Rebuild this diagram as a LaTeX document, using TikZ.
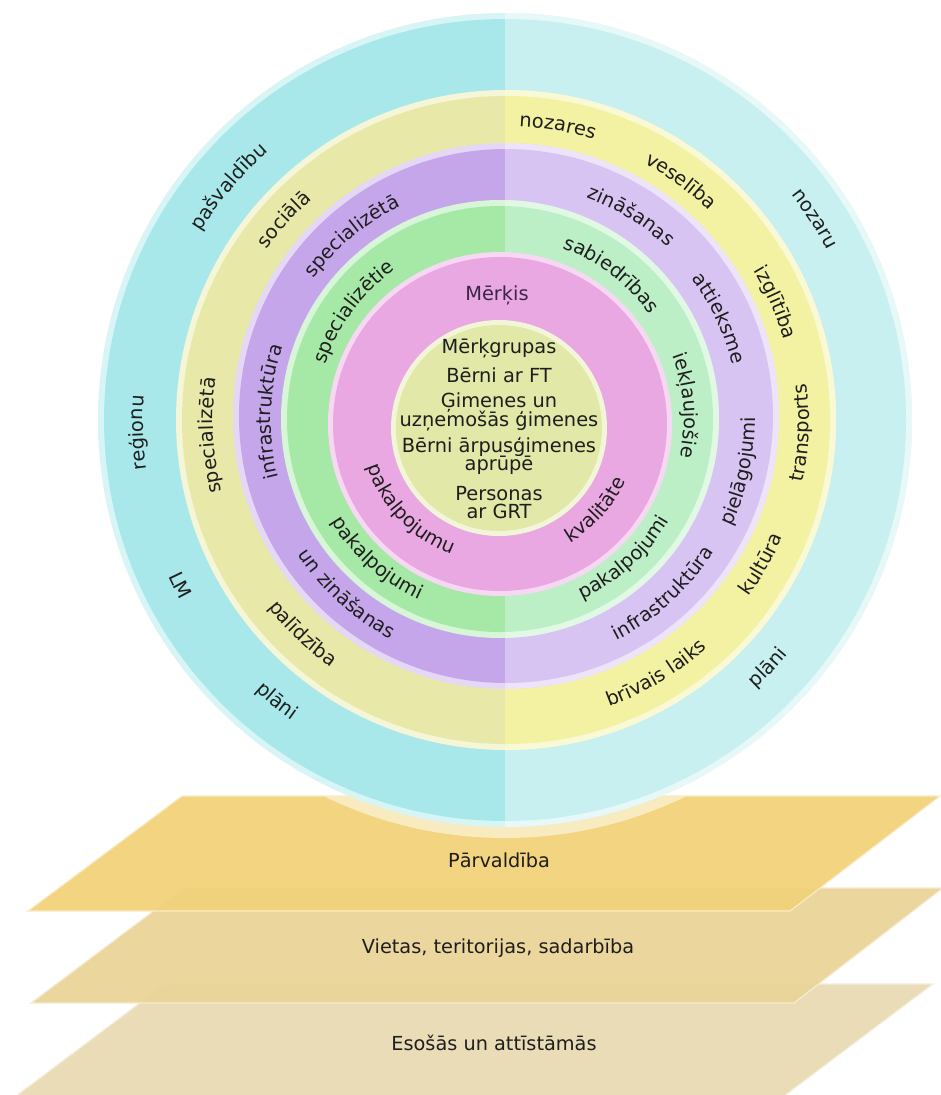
\documentclass[tikz,border=0pt]{standalone}
\usepackage{fontspec}
\setmainfont{DejaVu Sans}
\usetikzlibrary{decorations.text}
\definecolor{cyL}{HTML}{A8E8EA}
\definecolor{cyR}{HTML}{C8F0F0}
\definecolor{yeL}{HTML}{E8E8A8}
\definecolor{yeR}{HTML}{F2F2A2}
\definecolor{puL}{HTML}{C6A6EA}
\definecolor{puR}{HTML}{D8C4F2}
\definecolor{grL}{HTML}{A6E8A6}
\definecolor{grR}{HTML}{BCEFC6}
\definecolor{pk}{HTML}{EAA8E2}
\definecolor{ce}{HTML}{E2E9A8}
\definecolor{plA}{HTML}{F2D27A}
\definecolor{plB}{HTML}{EAD598}
\definecolor{plC}{HTML}{E8DAB2}
\definecolor{cream}{HTML}{F8EBC0}
\definecolor{txt}{HTML}{1E1E1E}
\definecolor{goal}{HTML}{3B2646}
\newcommand\rf{\fontsize{19.4}{19.4}\selectfont}
\newcommand\ringdisk[5]{%
  \fill[#4!45!white] (#1,#2) circle[radius=#3];
  \fill[#4] (#1,#2) circle[radius=#3-6];
  \begin{scope}
    \clip (505,0) rectangle (941,-1095);
    \fill[#5!45!white] (#1,#2) circle[radius=#3];
    \fill[#5] (#1,#2) circle[radius=#3-6];
  \end{scope}}
\newcommand\cwlabel[5]{%
  \path[decorate,decoration={text along path,text align=center,text color=txt,text={|\rf|#5}}]
    (#1,#2) ++({#3+70}:{#4-6}) arc[start angle={#3+70}, end angle={#3-70}, radius={#4-6}];}
\newcommand\ccwlabel[5]{%
  \path[decorate,decoration={text along path,text align=center,text color=txt,text={|\rf|#5}}]
    (#1,#2) ++({#3-70}:{#4+6}) arc[start angle={#3-70}, end angle={#3+70}, radius={#4+6}];}
\tikzset{
  plane/.style={draw=white!55!#1, line width=1.2pt, fill=#1, fill opacity=0.94},
  ctext/.style={font=\rf, text=txt, anchor=base, inner sep=0pt},
  ptext/.style={font=\fontsize{19.3}{19.3}\selectfont, text=txt, anchor=base, inner sep=0pt}
}
\begin{document}
\begin{tikzpicture}[x=1pt,y=1pt]
\useasboundingbox (0,0) rectangle (941,-1095);
\fill[white] (0,0) rectangle (941,-1095);
% planes
\path[plane=plC] (165,-984) -- (933,-984) -- (780,-1099) -- (12,-1099) -- cycle;
\path[plane=plB] (184,-888) -- (943,-888) -- (794,-1003) -- (31,-1003) -- cycle;
\path[plane=plA] (182,-796) -- (940,-796) -- (790,-911) -- (28,-911) -- cycle;
\begin{scope}
  \clip (182,-796) -- (940,-796) -- (790,-911) -- (28,-911) -- cycle;
  \fill[cream] (505,-425) circle[radius=413];
\end{scope}
\node[ptext] (p1) at (499,-867) {Pārvaldība};
\node[ptext] (p2) at (498,-953) {Vietas, teritorijas, sadarbība};
\node[ptext] (p3) at (494,-1050) {Esošās un attīstāmās};
% rings
\ringdisk{505}{-420}{407}{cyL}{cyR}
\ringdisk{506}{-420}{330}{yeL}{yeR}
\ringdisk{506}{-416}{273}{puL}{puR}
\ringdisk{500}{-419}{219}{grL}{grR}
\fill[pk!45!white] (500,-424) circle[radius=172];
\fill[pk] (500,-424) circle[radius=167];
\fill[ce!45!white] (499,-428) circle[radius=108];
\fill[ce] (499,-428) circle[radius=103];
% cyan ring labels
\cwlabel{505}{-420}{139.8}{364}{pašvaldību}
\cwlabel{505}{-420}{33}{370}{nozaru}
\cwlabel{505}{-420}{182}{368}{reģionu}
\ccwlabel{505}{-420}{207}{365}{LM}
\ccwlabel{505}{-420}{231}{362}{plāni}
\ccwlabel{505}{-420}{316.7}{361}{plāni}
% yellow ring labels
\cwlabel{505}{-420}{137.8}{299}{sociālā}
\cwlabel{505}{-420}{183}{298}{specializētā}
\ccwlabel{505}{-420}{226.6}{296}{palīdzība}
\cwlabel{505}{-420}{79.8}{300}{nozares}
\cwlabel{505}{-420}{53.6}{298}{veselība}
\cwlabel{505}{-420}{23.5}{296}{izglītība}
\ccwlabel{505}{-420}{-2.5}{298}{transports}
\ccwlabel{505}{-420}{-29.4}{295}{kultūra}
\ccwlabel{505}{-420}{-59.2}{299}{brīvais laiks}
% purple ring labels
\cwlabel{505}{-420}{129.7}{244}{specializētā}
\cwlabel{505}{-420}{178}{240}{infrastruktūra}
\ccwlabel{505}{-420}{227.7}{241}{un zināšanas}
\cwlabel{505}{-420}{58.3}{243}{zināšanas}
\cwlabel{505}{-420}{25.4}{240}{attieksme}
\ccwlabel{505}{-420}{-12.3}{244}{pielāgojumi}
\ccwlabel{505}{-420}{-47.7}{241}{infrastruktūra}
% green ring labels
\cwlabel{500}{-420}{143.6}{189}{specializētie}
\ccwlabel{500}{-420}{228.4}{191}{pakalpojumi}
\cwlabel{500}{-420}{52.5}{189}{sabiedrības}
\cwlabel{500}{-420}{4.5}{190}{iekļaujošie}
\ccwlabel{500}{-420}{-48}{191}{pakalpojumi}
% pink ring labels
\ccwlabel{500}{-424}{223.8}{133}{pakalpojumu}
\ccwlabel{500}{-424}{-42}{132}{kvalitāte}
\node[ctext, text=goal] (goal) at (497,-300) {Mērķis};
% centre text
\node[ctext] (t1) at (499,-353) {Mērķgrupas};
\node[ctext] (t2) at (499,-382) {Bērni ar FT};
\node[ctext] (t3) at (499,-407) {Ģimenes un};
\node[ctext] (t4) at (499,-426) {uzņemošās ģimenes};
\node[ctext] (t5) at (499,-452) {Bērni ārpusģimenes};
\node[ctext] (t6) at (499,-470) {aprūpē};
\node[ctext] (t7) at (499,-500) {Personas};
\node[ctext] (t8) at (499,-518) {ar GRT};
\end{tikzpicture}
\end{document}
